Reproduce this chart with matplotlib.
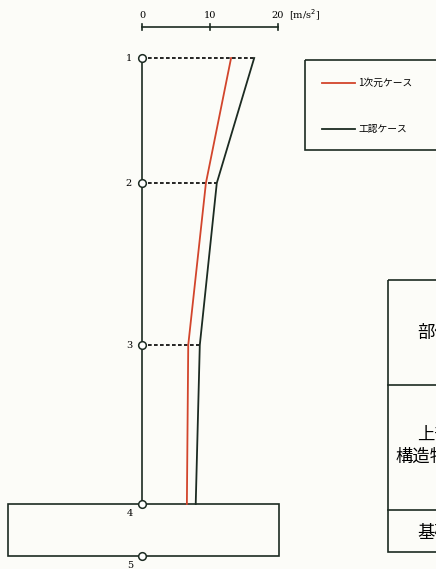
import matplotlib.pyplot as plt
from matplotlib.patches import Rectangle

plt.rcParams['font.family'] = ['Noto Sans CJK JP', 'DejaVu Sans']

# 節点 (上から) と各節点の深さ位置
nodes = ['1', '2', '3', '4', '5']
node_depth = [58, 183, 345, 504, 556]

# 最大応答加速度 [m/s2] (節点1〜4)
acc_1d = [13.1, 9.4, 6.8, 6.6]
acc_kounin = [16.5, 11.0, 8.5, 7.9]

scale_ticks = [0, 10, 20]
legend_labels = ['1次元ケース', '工認ケース']
table_rows = ['部位', '上部', '構造物', '基礎']

W, H = 436, 569
PX = 6.8      # 1 m/s2 あたりのピクセル
X0 = 142      # 加速度 0 の位置

fig = plt.figure(figsize=(W / 100, H / 100), dpi=100)
fig.patch.set_facecolor('#fcfcf8')
ax = fig.add_axes([0, 0, 1, 1])
ax.set_xlim(-X0 / PX, (W - X0) / PX)
ax.set_ylim(H, 0)
ax.axis('off')

def a(x):
    # ピクセル -> 加速度座標
    return (x - X0) / PX

dark = '#1c2b22'
red = '#d2452c'
serif = 'DejaVu Serif'

# 基礎の箱
ax.add_patch(Rectangle((a(8), node_depth[3]), a(279) - a(8), node_depth[4] - node_depth[3],
                       fill=False, ec=dark, lw=1.2, zorder=2))

# 幹
ax.plot([0, 0], [node_depth[0], node_depth[3]], color=dark, lw=1.2, zorder=2)

# 破線
for d, v in zip(node_depth[:3], acc_kounin[:3]):
    ax.plot([0, v], [d, d], color='black', lw=1.2, ls=(0, (2.2, 1.4)), zorder=2)

# 応答分布
ax.plot(acc_1d, node_depth[:4], color=red, lw=1.3, zorder=3)
ax.plot(acc_kounin, node_depth[:4], color=dark, lw=1.3, zorder=3)

# 節点
ax.plot([0] * len(nodes), node_depth, 'o', ms=5.5, mfc='white', mec=dark, mew=1.1, zorder=4)
for i, (n, d) in enumerate(zip(nodes, node_depth)):
    if i < 3:
        ax.text(a(132), d, n, ha='right', va='center', fontsize=7, family=serif)
    else:
        ax.text(a(130), d + 10, n, ha='center', va='center', fontsize=7, family=serif)

# スケールバー
ax.plot([scale_ticks[0], scale_ticks[-1]], [27, 27], color=dark, lw=1.2)
for t in scale_ticks:
    ax.plot([t, t], [24, 30], color=dark, lw=1.2)
    ax.text(t, 15, str(t), ha='center', va='center', fontsize=7, family=serif)
ax.text(a(289), 15, '[m/s$^2$]', ha='left', va='center', fontsize=7, family=serif)

# 凡例
ax.add_patch(Rectangle((a(305), 60), a(460) - a(305), 90, fill=False, ec=dark, lw=1.2,
                       clip_on=False))
for lab, col, y in zip(legend_labels, [red, dark], [83, 129]):
    ax.plot([a(322), a(355)], [y, y], color=col, lw=1.3)
    ax.text(a(358), y, lab, ha='left', va='center', fontsize=7)

# 右側の表
ax.add_patch(Rectangle((a(388), 280), a(470) - a(388), 272, fill=False, ec=dark, lw=1.2))
ax.plot([a(388), a(470)], [385, 385], color=dark, lw=1.2)
ax.plot([a(388), a(470)], [510, 510], color=dark, lw=1.2)
ax.text(a(417), 333, table_rows[0], ha='left', va='center', fontsize=12.5)
ax.text(a(417), 435, table_rows[1], ha='left', va='center', fontsize=12.5)
ax.text(a(395), 457, table_rows[2], ha='left', va='center', fontsize=12.5)
ax.text(a(417), 533, table_rows[3], ha='left', va='center', fontsize=12.5)

fig.savefig('out.png', dpi=100, facecolor=fig.get_facecolor())
